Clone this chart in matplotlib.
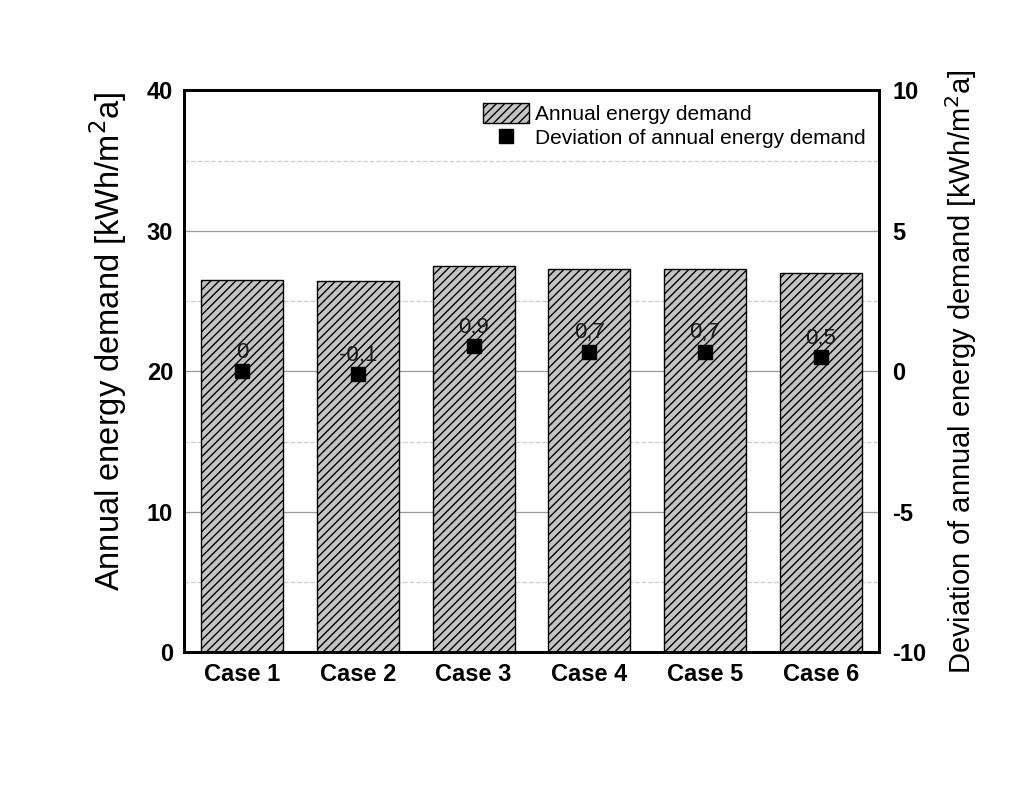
import matplotlib
matplotlib.use("Agg")
import matplotlib.pyplot as plt
from matplotlib.ticker import MultipleLocator

plt.rcParams['font.family'] = ['Liberation Sans', 'DejaVu Sans']
plt.rcParams['hatch.linewidth'] = 1.0
plt.rcParams['axes.unicode_minus'] = False

# data
cases = ["Case 1", "Case 2", "Case 3", "Case 4", "Case 5", "Case 6"]
demand = [26.5, 26.45, 27.5, 27.3, 27.3, 27.0]
deviation = [0, -0.1, 0.9, 0.7, 0.7, 0.5]
dev_labels = ["0", "-0,1", "0,9", "0,7", "0,7", "0,5"]

fig = plt.figure(figsize=(10.24, 7.85), dpi=100)
ax = fig.add_axes([0.18, 0.169, 0.678, 0.716])
x = list(range(len(cases)))

# grid behind the bars
ax.set_axisbelow(True)
ax.yaxis.set_major_locator(MultipleLocator(10))
ax.yaxis.set_minor_locator(MultipleLocator(5))
ax.grid(axis='y', which='major', color='#999999', linewidth=0.9)
ax.grid(axis='y', which='minor', color='#cccccc', linestyle='--', linewidth=0.9)

bars = ax.bar(x, demand, width=0.71, color='#c4c4c4', edgecolor='black',
              hatch='////', linewidth=1.0, label='Annual energy demand')
ax.set_xlim(-0.5, 5.5)
ax.set_ylim(0, 40)
ax.set_xticks(x)
ax.set_xticklabels(cases, fontsize=17, fontweight='bold')
ax.tick_params(axis='both', which='both', length=0, pad=8)
for lab in ax.get_yticklabels():
    lab.set_fontsize(17)
    lab.set_fontweight('bold')
ax.set_ylabel("Annual energy demand [kWh/m$^2$a]", fontsize=23.5)
ax.yaxis.set_label_coords(-0.08, 0.553)
for sp in ax.spines.values():
    sp.set_linewidth(2)

ax2 = ax.twinx()
pts, = ax2.plot(x, deviation, linestyle='none', marker='s', markersize=10,
                color='black', label='Deviation of annual energy demand')
for xi, d, t in zip(x, deviation, dev_labels):
    ax2.annotate(t, (xi, d), xytext=(0, 6), textcoords='offset points',
                 ha='center', va='bottom', fontsize=16, color='#1a1a1a')
ax2.set_ylim(-10, 10)
ax2.set_yticks([-10, -5, 0, 5, 10])
ax2.tick_params(axis='y', length=0, pad=10)
for lab in ax2.get_yticklabels():
    lab.set_fontsize(17)
    lab.set_fontweight('bold')
ax2.set_ylabel("Deviation of annual energy demand [kWh/m$^2$a]", fontsize=21, labelpad=12)
for sp in ax2.spines.values():
    sp.set_linewidth(2)

ax2.legend([bars, pts], ["Annual energy demand", "Deviation of annual energy demand"],
           loc='upper right', frameon=False, fontsize=15, handlelength=2.2,
           handleheight=1.1, handletextpad=0.3, borderaxespad=0.2, labelspacing=0.15)

fig.savefig("out.png", dpi=100)
